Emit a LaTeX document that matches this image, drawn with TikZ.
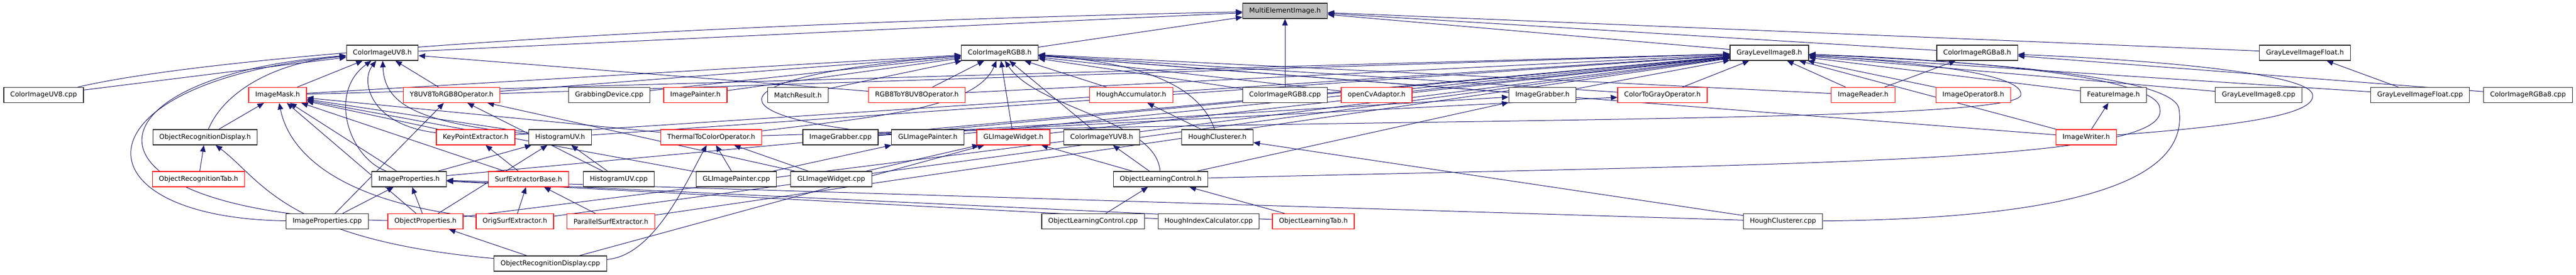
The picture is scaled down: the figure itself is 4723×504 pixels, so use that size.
\documentclass[tikz,border=0pt]{standalone}
\usepackage{fontspec}
\setmainfont{DejaVu Sans}
\usetikzlibrary{shapes,arrows.meta,backgrounds}
\definecolor{edgeblue}{RGB}{25,25,112}
\definecolor{rootgray}{RGB}{191,191,191}

\begin{document}
\begin{tikzpicture}[x=1pt,y=-1pt]
        % Define block styles
        \tikzstyle{block} = [rectangle, draw=black!85, line width=1.2pt, fill=white, font=\fontsize{12.3}{14}\selectfont, inner xsep=12pt, inner ysep=0pt, minimum height=28pt]
        \tikzstyle{redblock} = [block, draw=red]
        \tikzstyle{rootblock} = [block, fill=rootgray]
        \tikzstyle{line} = [draw=edgeblue, line width=1pt, -{Triangle[length=12pt,width=10pt]}]

        \useasboundingbox (0,0) rectangle (4723,504);

        % Nodes
        \node [rootblock] (multi) at (2356,20) {MultiElementImage.h};

        \node [block] (cuv8h) at (701,97) {ColorImageUV8.h};
        \node [block] (crgb8h) at (1833,97) {ColorImageRGB8.h};
        \node [block] (gl8h) at (3244,97) {GrayLevelImage8.h};
        \node [block] (crgba8h) at (3625,97) {ColorImageRGBa8.h};
        \node [block] (glfh) at (4226,97) {GrayLevelImageFloat.h};

        \node [block] (cuv8cpp) at (80,174.5) {ColorImageUV8.cpp};
        \node [redblock] (mask) at (509,174.5) {ImageMask.h};
        \node [redblock] (y8uv8) at (828,174.5) {Y8UV8ToRGB8Operator.h};
        \node [block] (grabdev) at (1117,174.5) {GrabbingDevice.cpp};
        \node [redblock] (painter) at (1275,174.5) {ImagePainter.h};
        \node [block] (match) at (1463,174.5) {MatchResult.h};
        \node [redblock] (rgb2yuv) at (1681,174.5) {RGB8ToY8UV8Operator.h};
        \node [redblock] (houghacc) at (2074,174.5) {HoughAccumulator.h};
        \node [block] (crgb8cpp) at (2356,174.5) {ColorImageRGB8.cpp};
        \node [redblock] (opencv) at (2524,174.5) {openCvAdaptor.h};
        \node [block] (grabberh) at (2828,174.5) {ImageGrabber.h};
        \node [redblock] (col2gray) at (3048,174.5) {ColorToGrayOperator.h};
        \node [redblock] (reader) at (3416,174.5) {ImageReader.h};
        \node [redblock] (imgop8) at (3618,174.5) {ImageOperator8.h};
        \node [block] (feature) at (3875,174.5) {FeatureImage.h};
        \node [block] (gl8cpp) at (4141,174.5) {GrayLevelImage8.cpp};
        \node [block] (glfcpp) at (4437,174.5) {GrayLevelImageFloat.cpp};
        \node [block] (crgba8cpp) at (4635,174.5) {ColorImageRGBa8.cpp};

        \node [block] (ordisph) at (376,252) {ObjectRecognitionDisplay.h};
        \node [redblock] (keypoint) at (872,252) {KeyPointExtractor.h};
        \node [block] (histh) at (1027,252) {HistogramUV.h};
        \node [redblock] (thermal) at (1304,252) {ThermalToColorOperator.h};
        \node [block] (grabbercpp) at (1541,252) {ImageGrabber.cpp};
        \node [block] (glpainterh) at (1701,252) {GLImagePainter.h};
        \node [redblock] (glwidgeth) at (1858,252) {GLImageWidget.h};
        \node [block] (cyuv8h) at (2020,252) {ColorImageYUV8.h};
        \node [block] (houghclh) at (2232,252) {HoughClusterer.h};
        \node [redblock] (writer) at (3825,252) {ImageWriter.h};

        \node [redblock] (ortab) at (364,329) {ObjectRecognitionTab.h};
        \node [block] (propsh) at (750,329) {ImageProperties.h};
        \node [redblock] (surfbase) at (969,329) {SurfExtractorBase.h};
        \node [block] (histcpp) at (1134.5,329) {HistogramUV.cpp};
        \node [block] (glpaintercpp) at (1350,329) {GLImagePainter.cpp};
        \node [block] (glwidgetcpp) at (1524,329) {GLImageWidget.cpp};
        \node [block] (olcontrolh) at (2128,329) {ObjectLearningControl.h};

        \node [block] (propscpp) at (600,406.5) {ImageProperties.cpp};
        \node [redblock] (objprops) at (780,406.5) {ObjectProperties.h};
        \node [redblock] (origsurf) at (944,406.5) {OrigSurfExtractor.h};
        \node [redblock] (parsurf) at (1120,406.5) {ParallelSurfExtractor.h};
        \node [block] (olcontrolcpp) at (2004,406.5) {ObjectLearningControl.cpp};
        \node [block] (houghidx) at (2216,406.5) {HoughIndexCalculator.cpp};
        \node [redblock] (oltab) at (2408,406.5) {ObjectLearningTab.h};
        \node [block] (houghclcpp) at (3269,406.5) {HoughClusterer.cpp};

        \node [block] (ordispcpp) at (1009,484) {ObjectRecognitionDisplay.cpp};

        % Arrows
        \begin{pgfonlayer}{background}
        \path [line] (cuv8cpp) .. controls (400,100) and (1200,45) .. (multi);
        \path [line] (cuv8h) -- (multi);
        \path [line] (crgb8h) -- (multi);
        \path [line] (crgb8cpp) -- (multi);
        \path [line] (gl8h) -- (multi);
        \path [line] (crgba8h) -- (multi);
        \path [line] (glfh) -- (multi);

        \path [line] (cuv8cpp) -- (cuv8h);
        \path [line] (mask) -- (cuv8h);
        \path [line] (y8uv8) -- (cuv8h);
        \path [line] (rgb2yuv) -- (cuv8h);
        \path [line] (keypoint) .. controls (680,230) and (660,150) .. (cuv8h);
        \path [line] (histh) .. controls (760,225) and (705,190) .. (cuv8h);
        \path [line] (ordisph) .. controls (410,170) and (500,115) .. (cuv8h);
        \path [line] (propsh) .. controls (640,290) and (600,170) .. (cuv8h);
        \path [line] (propscpp) .. controls (130,400) and (130,150) .. (cuv8h);
        \path [line] (objprops) .. controls (110,392) and (140,140) .. (cuv8h);

        \path [line] (mask) -- (crgb8h);
        \path [line] (y8uv8) -- (crgb8h);
        \path [line] (grabdev) -- (crgb8h);
        \path [line] (painter) -- (crgb8h);
        \path [line] (match) -- (crgb8h);
        \path [line] (rgb2yuv) -- (crgb8h);
        \path [line] (houghacc) -- (crgb8h);
        \path [line] (crgb8cpp) -- (crgb8h);
        \path [line] (opencv) -- (crgb8h);
        \path [line] (grabberh) -- (crgb8h);
        \path [line] (col2gray) -- (crgb8h);
        \path [line] (reader) -- (crgb8h);
        \path [line] (writer) -- (crgb8h);
        \path [line] (glwidgeth) -- (crgb8h);
        \path [line] (cyuv8h) -- (crgb8h);
        \path [line] (thermal) .. controls (1600,215) and (1790,200) .. (crgb8h);
        \path [line] (glpainterh) .. controls (1300,215) and (1300,140) .. (crgb8h);
        \path [line] (houghclh) .. controls (2200,160) and (2100,115) .. (crgb8h);
        \path [line] (olcontrolh) .. controls (2120,220) and (1900,200) .. (crgb8h);

        \path [line] (mask) -- (gl8h);
        \path [line] (y8uv8) -- (gl8h);
        \path [line] (rgb2yuv) -- (gl8h);
        \path [line] (opencv) -- (gl8h);
        \path [line] (grabberh) -- (gl8h);
        \path [line] (col2gray) -- (gl8h);
        \path [line] (reader) -- (gl8h);
        \path [line] (imgop8) -- (gl8h);
        \path [line] (feature) -- (gl8h);
        \path [line] (gl8cpp) -- (gl8h);
        \path [line] (glfcpp) -- (gl8h);
        \path [line] (keypoint) -- (gl8h);
        \path [line] (histh) -- (gl8h);
        \path [line] (glpainterh) -- (gl8h);
        \path [line] (glwidgeth) -- (gl8h);
        \path [line] (grabbercpp) -- (gl8h);
        \path [line] (writer) -- (gl8h);
        \path [line] (propsh) -- (gl8h);
        \path [line] (objprops) -- (gl8h);
        \path [line] (origsurf) -- (gl8h);
        \path [line] (parsurf) -- (gl8h);
        \path [line] (thermal) .. controls (2500,215) and (3690,228) .. (3705,175) .. controls (3715,130) and (3450,110) .. (gl8h);
        \path [line] (olcontrolh) .. controls (3300,300) and (3980,300) .. (3960,200) .. controls (3960,135) and (3550,108) .. (gl8h);
        \path [line] (houghclcpp) .. controls (3900,400) and (4010,300) .. (3995,200) .. controls (3985,130) and (3500,108) .. (gl8h);

        \path [line] (reader) -- (crgba8h);
        \path [line] (crgba8cpp) -- (crgba8h);
        \path [line] (writer) .. controls (4150,228) and (4245,205) .. (4240,174) .. controls (4235,135) and (3950,110) .. (crgba8h);
        \path [line] (glfcpp) -- (glfh);

        \path [line] (ordisph) -- (mask);
        \path [line] (keypoint) -- (mask);
        \path [line] (histh) -- (mask);
        \path [line] (thermal) -- (mask);
        \path [line] (propsh) -- (mask);
        \path [line] (surfbase) -- (mask);
        \path [line] (glpaintercpp) -- (mask);
        \path [line] (objprops) -- (mask);
        \path [line] (origsurf) .. controls (620,370) and (530,280) .. (mask);

        \path [line] (propscpp) -- (y8uv8);
        \path [line] (histcpp) -- (y8uv8);
        \path [line] (glwidgetcpp) -- (y8uv8);
        \path [line] (grabbercpp) -- (grabberh);
        \path [line] (olcontrolh) -- (grabberh);
        \path [line] (grabbercpp) -- (col2gray);
        \path [line] (houghclh) -- (houghacc);
        \path [line] (writer) -- (feature);

        \path [line] (ortab) -- (ordisph);
        \path [line] (ordispcpp) .. controls (520,440) and (480,330) .. (ordisph);
        \path [line] (surfbase) -- (keypoint);
        \path [line] (propsh) -- (histh);
        \path [line] (objprops) -- (histh);
        \path [line] (histcpp) -- (histh);
        \path [line] (glpaintercpp) -- (thermal);
        \path [line] (glwidgetcpp) -- (thermal);
        \path [line] (ordispcpp) .. controls (1200,470) and (1260,330) .. (thermal);
        \path [line] (glpaintercpp) -- (glpainterh);
        \path [line] (glwidgetcpp) -- (glwidgeth);
        \path [line] (ordispcpp) -- (glwidgeth);
        \path [line] (olcontrolh) -- (glwidgeth);
        \path [line] (olcontrolh) -- (cyuv8h);
        \path [line] (houghclcpp) -- (houghclh);

        \path [line] (propscpp) -- (propsh);
        \path [line] (objprops) -- (propsh);
        \path [line] (oltab) -- (propsh);
        \path [line] (houghidx) -- (propsh);
        \path [line] (houghclcpp) -- (propsh);
        \path [line] (origsurf) -- (surfbase);
        \path [line] (parsurf) -- (surfbase);
        \path [line] (olcontrolcpp) -- (olcontrolh);
        \path [line] (oltab) -- (olcontrolh);
        \path [line] (ordispcpp) -- (objprops);
        \end{pgfonlayer}

    \end{tikzpicture}
\end{document}
